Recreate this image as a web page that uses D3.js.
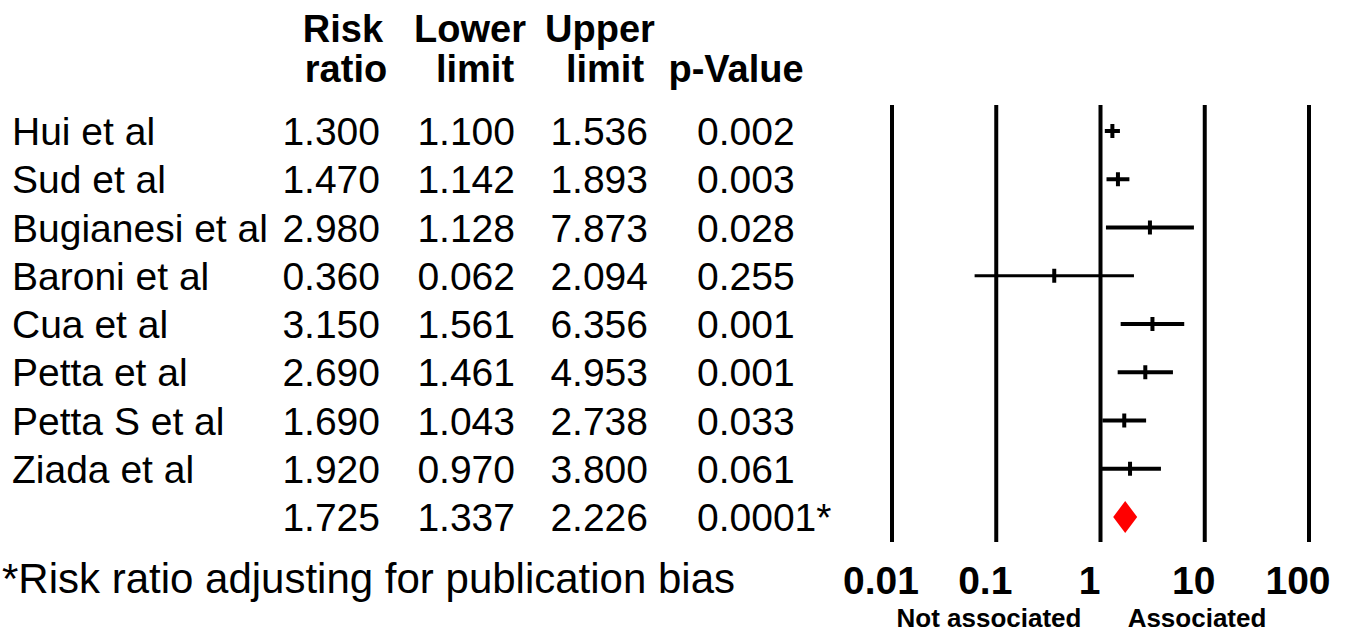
<!DOCTYPE html>
<html><head><meta charset="utf-8">
<script src="https://cdn.jsdelivr.net/npm/d3@7"></script>
<style>body{margin:0;background:#fff}svg{display:block}</style>
</head><body>
<svg id="c" width="1347" height="639"></svg>
<script>
const studies = ["Hui et al","Sud et al","Bugianesi et al","Baroni et al","Cua et al","Petta et al","Petta S et al","Ziada et al"];
const riskRatio = [1.300,1.470,2.980,0.360,3.150,2.690,1.690,1.920];
const lowerLimit = [1.100,1.142,1.128,0.062,1.561,1.461,1.043,0.970];
const upperLimit = [1.536,1.893,7.873,2.094,6.356,4.953,2.738,3.800];
const pValues = ["0.002","0.003","0.028","0.255","0.001","0.001","0.033","0.061"];
const summary = {rr:1.725, lo:1.337, hi:2.226, p:"0.0001*"};
const headers1 = ["Risk","Lower","Upper",""];
const headers2 = ["ratio","limit","limit","p-Value"];
const ticks = [0.01,0.1,1,10,100];
const tickLabels = ["0.01","0.1","1","10","100"];
const footnote = "*Risk ratio adjusting for publication bias";

const svg = d3.select("#c");
const font = "'Liberation Sans', Arial, sans-serif";
const x = d3.scaleLog().domain([0.01,100]).range([892,1309]);
const y = d3.scalePoint().domain(d3.range(studies.length+1)).range([131,517]);

// headers
const hdrX = [343,470,600,736];
svg.selectAll("text.h1").data(headers1).join("text").attr("class","h1")
  .attr("x",(d,i)=>hdrX[i]).attr("y",42).attr("text-anchor","middle")
  .attr("font-family",font).attr("font-weight","bold").attr("font-size",38).text(d=>d);
svg.selectAll("text.h2").data(headers2).join("text").attr("class","h2")
  .attr("x",(d,i)=>hdrX[i]+(i===0?3:(i===1||i===2?5:0))).attr("y",82).attr("text-anchor","middle")
  .attr("font-family",font).attr("font-weight","bold").attr("font-size",38).text(d=>d);

const fs = 39, dy = 14;
const rows = studies.map((s,i)=>({name:s, rr:riskRatio[i], lo:lowerLimit[i], hi:upperLimit[i], p:pValues[i], i}));
const allRows = rows.concat([{name:"", rr:summary.rr, lo:summary.lo, hi:summary.hi, p:summary.p, i:studies.length}]);
const g = svg.append("g").attr("font-family",font).attr("font-size",fs);
allRows.forEach(r=>{
  const yy = y(r.i)+dy;
  g.append("text").attr("x",12).attr("y",yy).text(r.name);
  g.append("text").attr("x",380).attr("y",yy).attr("text-anchor","end").text(r.rr.toFixed(3));
  g.append("text").attr("x",515).attr("y",yy).attr("text-anchor","end").text(r.lo.toFixed(3));
  g.append("text").attr("x",648).attr("y",yy).attr("text-anchor","end").text(r.hi.toFixed(3));
  g.append("text").attr("x",697).attr("y",yy).text(r.p);
});

// vertical reference lines
svg.selectAll("line.v").data(ticks).join("line").attr("class","v")
  .attr("x1",d=>x(d)).attr("x2",d=>x(d)).attr("y1",105).attr("y2",542)
  .attr("stroke","#000").attr("stroke-width",4);

// whiskers
const sw = r => (Math.log10(r.hi)-Math.log10(r.lo) > 1 ? 3 : 4);
svg.selectAll("line.w").data(rows).join("line").attr("class","w")
  .attr("x1",d=>x(d.lo)).attr("x2",d=>x(d.hi)).attr("y1",d=>y(d.i)).attr("y2",d=>y(d.i))
  .attr("stroke","#000").attr("stroke-width",sw);
svg.selectAll("line.t").data(rows).join("line").attr("class","t")
  .attr("x1",d=>x(d.rr)).attr("x2",d=>x(d.rr)).attr("y1",d=>y(d.i)-7).attr("y2",d=>y(d.i)+7)
  .attr("stroke","#000").attr("stroke-width",4);

// summary diamond
const cx = x(summary.rr), cy = y(studies.length);
svg.append("path").attr("d",`M${cx-12},${cy} L${cx},${cy-16} L${cx+12},${cy} L${cx},${cy+16} Z`)
  .attr("fill","#ff0000");

// tick labels
svg.selectAll("text.tk").data(ticks).join("text").attr("class","tk")
  .attr("x",d=>x(d)-11).attr("y",594).attr("text-anchor","middle")
  .attr("font-family",font).attr("font-weight","bold").attr("font-size",39)
  .text((d,i)=>tickLabels[i]);

svg.append("text").attr("x",989).attr("y",627).attr("text-anchor","middle")
  .attr("font-family",font).attr("font-weight","bold").attr("font-size",26).text("Not associated");
svg.append("text").attr("x",1197).attr("y",627).attr("text-anchor","middle")
  .attr("font-family",font).attr("font-weight","bold").attr("font-size",26).text("Associated");

svg.append("text").attr("x",2).attr("y",593).attr("font-family",font).attr("font-size",42).text(footnote);
</script>
</body></html>
